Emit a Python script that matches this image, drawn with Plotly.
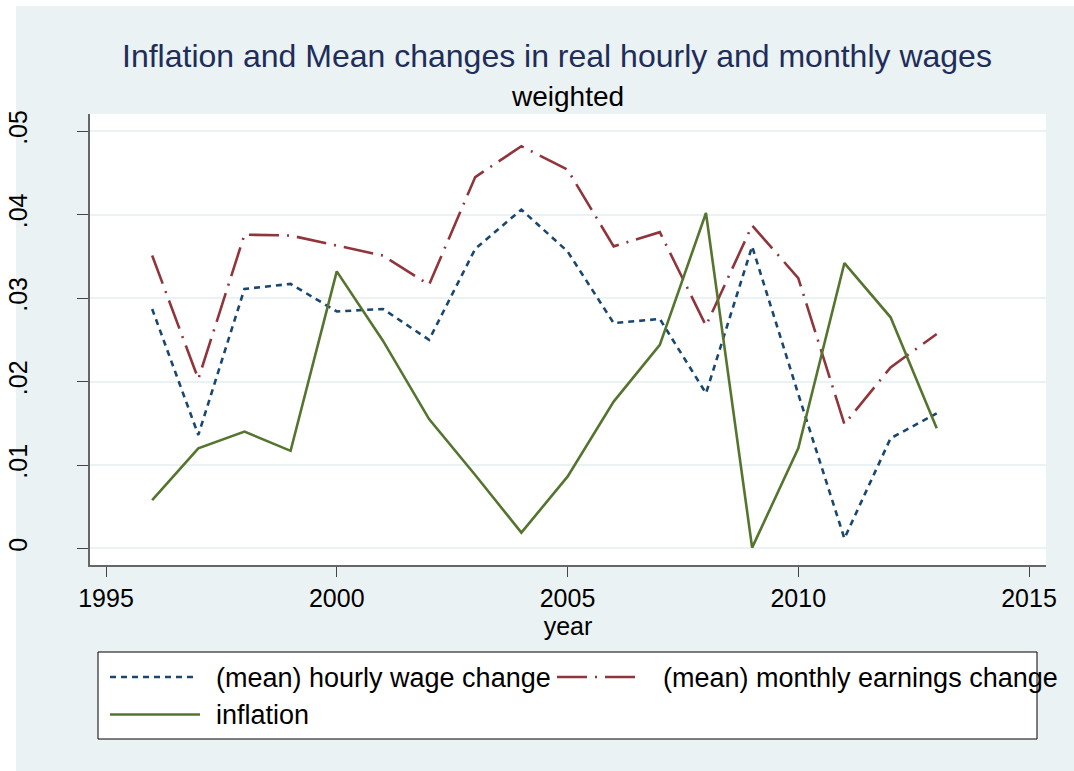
import plotly.graph_objects as go

years = list(range(1996, 2014))
hourly = [0.0287, 0.0136, 0.0311, 0.0317, 0.0284, 0.0287, 0.0250, 0.0359, 0.0406, 0.0356,
          0.0270, 0.0275, 0.0186, 0.0362, 0.0185, 0.0012, 0.0132, 0.0162]
monthly = [0.0351, 0.0203, 0.0376, 0.0375, 0.0363, 0.0351, 0.0316, 0.0445, 0.0482, 0.0454,
           0.0362, 0.0379, 0.0267, 0.0387, 0.0324, 0.0149, 0.0217, 0.0257]
inflation = [0.0058, 0.0120, 0.0140, 0.0117, 0.0332, 0.0249, 0.0155, 0.0088, 0.0019, 0.0086,
             0.0176, 0.0244, 0.0402, 0.0001, 0.0120, 0.0342, 0.0277, 0.0144]

x_ticks = [1995, 2000, 2005, 2010, 2015]
y_ticks = [0, 0.01, 0.02, 0.03, 0.04, 0.05]
y_ticklabels = ["0", ".01", ".02", ".03", ".04", ".05"]

series_names = ["(mean) hourly wage change", "(mean) monthly earnings change", "inflation"]
colors = ["#1A476F", "#90353B", "#55752F"]
dashes = ["6px,5px", "30px,8px,2px,8px", "solid"]

BG = "#EAF2F3"
FONT = "Liberation Sans, Arial, Helvetica, sans-serif"

W, H = 1074, 771
L, R, T, B = 90, 28, 114, 206
PW, PH = W - L - R, H - T - B


def px(xp):
    return (xp - L) / PW


def py(yp):
    return (H - B - yp) / PH


fig = go.Figure()
for name, vals, c, d in zip(series_names, [hourly, monthly, inflation], colors, dashes):
    fig.add_trace(go.Scatter(x=years, y=vals, mode="lines", name=name,
                             line=dict(color=c, width=2.6, dash=d), showlegend=False))

shapes = [
    # white strips at the cropped edges
    dict(type="rect", xref="paper", yref="paper", x0=px(0), x1=px(16), y0=py(H), y1=py(0),
         fillcolor="white", line=dict(width=0), layer="below"),
    dict(type="rect", xref="paper", yref="paper", x0=px(0), x1=px(W), y0=py(6), y1=py(0),
         fillcolor="white", line=dict(width=0), layer="below"),
    # legend box
    dict(type="rect", xref="paper", yref="paper", x0=px(98), x1=px(1037), y0=py(739), y1=py(652),
         fillcolor="white", line=dict(color="black", width=1)),
]
legend_pos = [(110, 198, 677), (557, 643, 677), (110, 200, 714.5)]
text_pos = [(214, 677.5), (661, 677.5), (214, 714.5)]
annotations = []
for (x0, x1, yy), (tx, ty), name, c, d in zip(legend_pos, text_pos, series_names, colors, dashes):
    shapes.append(dict(type="line", xref="paper", yref="paper", x0=px(x0), x1=px(x1),
                       y0=py(yy), y1=py(yy), line=dict(color=c, width=2.6, dash=d)))
    annotations.append(dict(text=name, xref="paper", yref="paper", x=px(tx), y=py(ty),
                            xanchor="left", yanchor="middle", showarrow=False,
                            font=dict(size=27, color="black", family=FONT)))

annotations.append(dict(text="Inflation and Mean changes in real hourly and monthly wages",
                        xref="paper", yref="paper", x=px(557), y=py(55.8), xanchor="center",
                        yanchor="middle", showarrow=False,
                        font=dict(size=32, color="#1E2D5A", family=FONT)))
annotations.append(dict(text="weighted", xref="paper", yref="paper", x=px(567), y=py(96.2),
                        xanchor="center", yanchor="middle", showarrow=False,
                        font=dict(size=28, color="black", family=FONT)))

fig.update_layout(
    width=W, height=H,
    margin=dict(l=L, r=R, t=T, b=B, pad=0, autoexpand=False),
    paper_bgcolor=BG, plot_bgcolor="white",
    font=dict(family=FONT, color="black"),
    shapes=shapes, annotations=annotations,
    showlegend=False,
    xaxis=dict(range=[1994.653, 2015.368], tickvals=x_ticks, ticks="outside", ticklen=10,
               tickcolor="#444", tickwidth=1, showgrid=False, zeroline=False,
               showline=True, linecolor="#666", linewidth=1.5, automargin=False,
               tickfont=dict(size=25, color="black"),
               title=dict(text="year", font=dict(size=25, color="black"), standoff=0)),
    yaxis=dict(range=[-0.00198, 0.05206], tickvals=y_ticks, ticktext=y_ticklabels,
               ticks="outside", ticklen=11, tickcolor="#444", tickwidth=1,
               showgrid=True, gridcolor=BG, gridwidth=2, zeroline=False,
               showline=True, linecolor="#666", linewidth=1.5, tickangle=-90,
               automargin=False,
               tickfont=dict(size=25, color="black"), ticklabelstandoff=40),
)

fig.write_html("out.html",
               config={"displayModeBar": False},
               post_script="document.body.style.margin='0px';"
                           "document.body.style.overflow='hidden';")
